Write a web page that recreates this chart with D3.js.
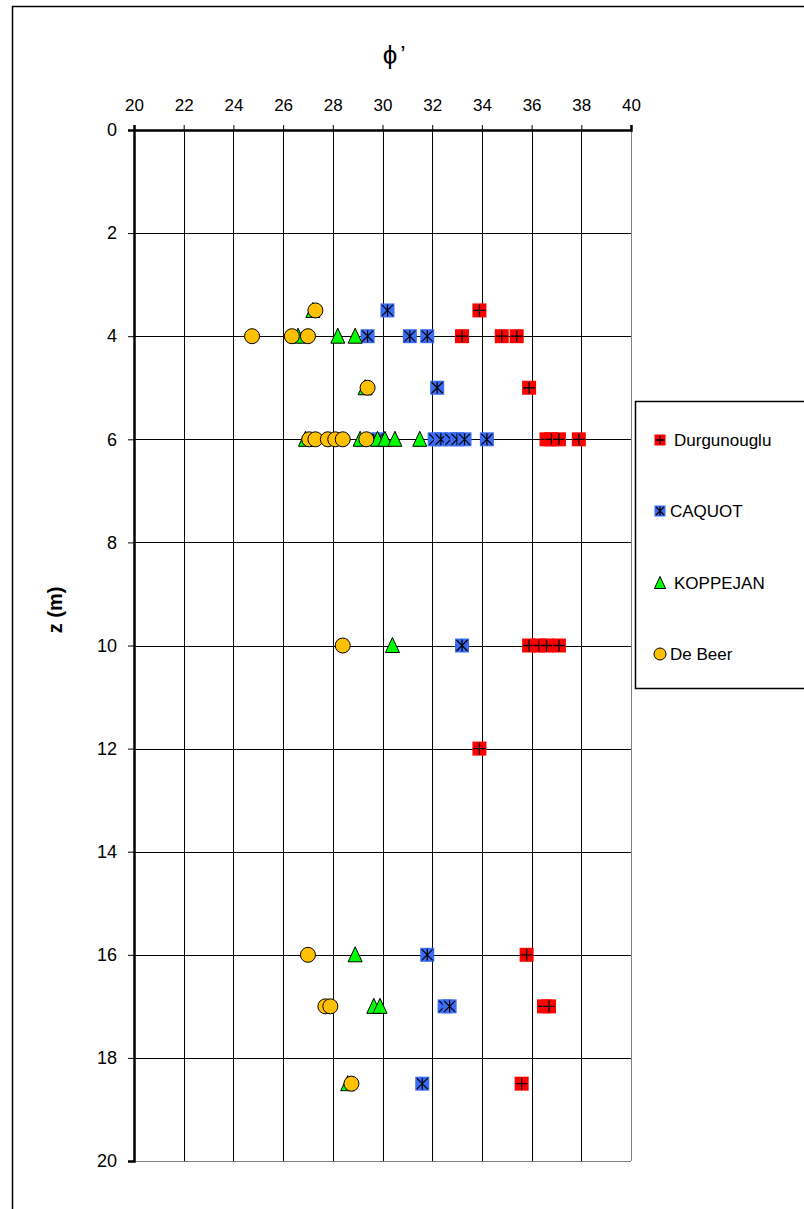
<!DOCTYPE html>
<html>
<head>
<meta charset="utf-8">
<script src="https://cdn.jsdelivr.net/npm/d3@7"></script>
<style>
  body { margin: 0; background: #fff; }
  svg { display: block; font-family: "Liberation Sans", Arial, sans-serif; }
</style>
</head>
<body>
<div id="chart"></div>
<script>
// phi' values and depths for each method
const durgDepth = [3.5, 4, 4, 4, 5, 6, 6, 6, 6, 10, 10, 10, 10, 12, 16, 17, 17, 18.5];
const durgPhi = [33.9, 33.2, 34.8, 35.4, 35.9, 36.6, 36.8, 37.1, 37.9, 35.9, 36.3, 36.6, 37.1, 33.9, 35.8, 36.5, 36.7, 35.6];

const caquotDepth = [3.5, 4, 4, 4, 5, 6, 6, 6, 6, 6, 6, 6, 10, 16, 17, 17, 18.5];
const caquotPhi = [30.2, 29.4, 31.1, 31.8, 32.2, 29.8, 32.1, 32.35, 32.75, 33.0, 33.3, 34.2, 33.2, 31.8, 32.5, 32.7, 31.6];

const koppDepth = [3.5, 4, 4, 4, 5, 6, 6, 6, 6, 6, 6, 10, 16, 17, 17, 18.5];
const koppPhi = [27.2, 26.6, 28.2, 28.9, 29.3, 26.9, 29.1, 29.8, 30.1, 30.5, 31.5, 30.4, 28.9, 29.65, 29.9, 28.6];

const beerDepth = [3.5, 4, 4, 4, 5, 6, 6, 6, 6, 6, 6, 10, 16, 17, 17, 18.5];
const beerPhi = [27.3, 24.75, 26.35, 27.0, 29.4, 27.05, 27.3, 27.8, 28.1, 28.4, 29.35, 28.4, 27.0, 27.7, 27.9, 28.75];

const xTicks = [20, 22, 24, 26, 28, 30, 32, 34, 36, 38, 40];
const yTicks = [0, 2, 4, 6, 8, 10, 12, 14, 16, 18, 20];
const seriesNames = ["Durgunouglu", "CAQUOT", "KOPPEJAN", "De Beer"];

const width = 804, height = 1209;
const svg = d3.select("#chart").append("svg").attr("width", width).attr("height", height);

// outer chart border (runs off the right and bottom)
svg.append("rect").attr("x", 12.5).attr("y", 6.5).attr("width", 820).attr("height", 1230)
  .attr("fill", "none").attr("stroke", "#000").attr("stroke-width", 1.5);

const x = d3.scaleLinear().domain([20, 40]).range([134, 631]);
const y = d3.scaleLinear().domain([0, 20]).range([130, 1161]);

const grid = svg.append("g");
// vertical gridlines
grid.selectAll(".vg").data(xTicks.slice(1)).enter().append("line")
  .attr("x1", d => Math.round(x(d)) + 0.5).attr("x2", d => Math.round(x(d)) + 0.5)
  .attr("y1", y(0)).attr("y2", y(20))
  .attr("stroke", d => d === 40 ? "#808080" : "#000").attr("stroke-width", 1);
// horizontal gridlines
grid.selectAll(".hg").data(yTicks.slice(1)).enter().append("line")
  .attr("x1", x(20)).attr("x2", x(40))
  .attr("y1", d => Math.round(y(d)) + 0.5).attr("y2", d => Math.round(y(d)) + 0.5)
  .attr("stroke", d => d === 20 ? "#808080" : "#000").attr("stroke-width", 1);

// top axis (phi')
const xAxis = d3.axisTop(x).tickValues(xTicks).tickSize(5).tickPadding(14).tickFormat(d3.format("d"));
const gx = svg.append("g").attr("transform", `translate(0, ${y(0)})`).call(xAxis);
gx.select(".domain").attr("stroke-width", 2.5);
gx.selectAll("text").attr("font-size", 17).attr("fill", "#000")
  .attr("font-family", "Liberation Sans, Arial, sans-serif");

// left axis (z)
const yAxis = d3.axisLeft(y).tickValues(yTicks).tickSize(6).tickPadding(11).tickFormat(d3.format("d"));
const gy = svg.append("g").attr("transform", `translate(${x(20)}, 0)`).call(yAxis);
gy.select(".domain").attr("stroke-width", 2.5);
gy.selectAll("text").attr("font-size", 18).attr("fill", "#000")
  .attr("font-family", "Liberation Sans, Arial, sans-serif");

// titles
svg.append("text").attr("x", 390).attr("y", 64).attr("text-anchor", "middle")
  .attr("font-size", 26).attr("font-family", "Liberation Sans, DejaVu Sans, sans-serif").text("\u03D5");
svg.append("text").attr("x", 403).attr("y", 63).attr("text-anchor", "middle")
  .attr("font-size", 24).attr("font-family", "Liberation Sans, sans-serif").text("\u2019");
svg.append("text").attr("transform", "translate(62, 610) rotate(-90)").attr("text-anchor", "middle")
  .attr("font-size", 20).attr("font-weight", "bold").text("z (m)");

// marker drawing helpers
function drawSquarePlus(g, cx, cy, s) {
  g.append("rect").attr("x", cx - s / 2).attr("y", cy - s / 2).attr("width", s).attr("height", s).attr("fill", "#ff0000");
  g.append("path").attr("d", `M${cx - s / 2 + 1},${cy}H${cx + s / 2 - 1}M${cx},${cy - s / 2 + 1}V${cy + s / 2 - 1}`)
    .attr("stroke", "#000").attr("stroke-width", 1.3);
}
function drawSquareStar(g, cx, cy, s) {
  const h = s / 2 - 1.5;
  g.append("rect").attr("x", cx - s / 2).attr("y", cy - s / 2).attr("width", s).attr("height", s).attr("fill", "#3a6cf4");
  g.append("path").attr("d", `M${cx - h},${cy - h}L${cx + h},${cy + h}M${cx + h},${cy - h}L${cx - h},${cy + h}M${cx},${cy - s / 2 + 1}V${cy + s / 2 - 1}`)
    .attr("stroke", "#000").attr("stroke-width", 1.2);
}
function drawTriangle(g, cx, cy, s) {
  g.append("path").attr("d", `M${cx},${cy - s / 2 - 1}L${cx + s / 2},${cy + s / 2}L${cx - s / 2},${cy + s / 2}Z`)
    .attr("fill", "#00ff00").attr("stroke", "#000").attr("stroke-width", 1);
}
function drawCircle(g, cx, cy, r) {
  g.append("circle").attr("cx", cx).attr("cy", cy).attr("r", r)
    .attr("fill", "#ffc000").attr("stroke", "#000").attr("stroke-width", 1);
}

const marks = svg.append("g");
d3.zip(durgPhi, durgDepth).forEach(([p, z]) => drawSquarePlus(marks, x(p), y(z), 14));
d3.zip(caquotPhi, caquotDepth).forEach(([p, z]) => drawSquareStar(marks, x(p), y(z), 14));
d3.zip(koppPhi, koppDepth).forEach(([p, z]) => drawTriangle(marks, x(p), y(z), 14));
d3.zip(beerPhi, beerDepth).forEach(([p, z]) => drawCircle(marks, x(p), y(z), 7.5));

// legend
const legend = svg.append("g");
legend.append("rect").attr("x", 635.5).attr("y", 401.5).attr("width", 200).attr("height", 287)
  .attr("fill", "#fff").attr("stroke", "#000").attr("stroke-width", 1.5);
const legendY = [440, 511, 583, 654];
const legendTextX = [674, 670, 674, 670];
seriesNames.forEach((name, i) => {
  const ly = legendY[i], lx = 660;
  if (i === 0) drawSquarePlus(legend, lx, ly, 11);
  if (i === 1) drawSquareStar(legend, lx, ly, 11);
  if (i === 2) drawTriangle(legend, lx, ly, 11);
  if (i === 3) drawCircle(legend, lx, ly, 6);
  legend.append("text").attr("x", legendTextX[i]).attr("y", ly + 6).attr("font-size", 17).text(name);
});
</script>
</body>
</html>
